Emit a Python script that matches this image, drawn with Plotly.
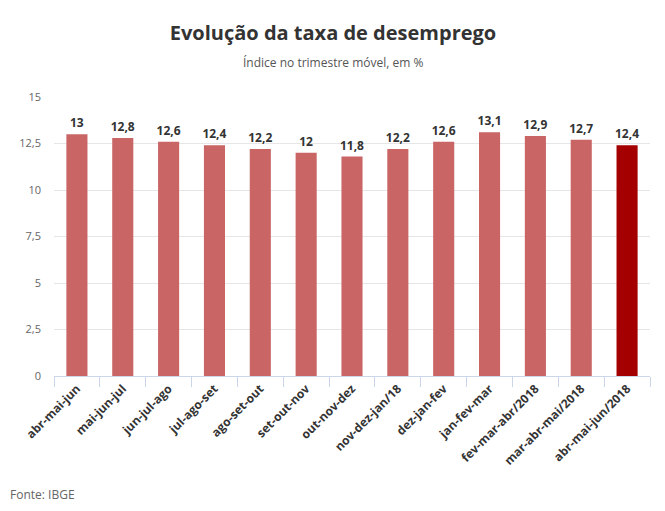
import plotly.graph_objects as go

# Taxa de desemprego no trimestre móvel (%)
trimestres = [
    'abr-mai-jun', 'mai-jun-jul', 'jun-jul-ago', 'jul-ago-set', 'ago-set-out',
    'set-out-nov', 'out-nov-dez', 'nov-dez-jan/18', 'dez-jan-fev', 'jan-fev-mar',
    'fev-mar-abr/2018', 'mar-abr-mai/2018', 'abr-mai-jun/2018',
]
taxa = [13, 12.8, 12.6, 12.4, 12.2, 12, 11.8, 12.2, 12.6, 13.1, 12.9, 12.7, 12.4]
rotulos = ['13', '12,8', '12,6', '12,4', '12,2', '12', '11,8', '12,2', '12,6', '13,1', '12,9', '12,7', '12,4']

# destaque no último trimestre
cores = ['#c96565'] * (len(taxa) - 1) + ['#a50000']

# a página tem 8px de margem no body, então tudo fica deslocado 8px
W, H = 665, 511
ML, MR, MT, MB = 46, 23, 89, 143
pw = W - ML - MR
ph = H - MT - MB

fig = go.Figure(go.Bar(
    x=trimestres,
    y=taxa,
    marker=dict(color=cores, line=dict(width=0)),
    text=rotulos,
    textposition='outside',
    constraintext='none',
    textfont=dict(family='Open Sans', size=12, color='#333333', weight='bold'),
    cliponaxis=False,
    hoverinfo='x+y',
))

fig.update_layout(
    width=W, height=H,
    separators=',.',
    font=dict(family='Open Sans', color='#666666'),
    title=dict(
        text='<b>Evolução da taxa de desemprego</b>',
        x=325 / W, xanchor='center', y=1 - 25 / H, yanchor='middle',
        font=dict(size=20, color='#333333'),
    ),
    margin=dict(l=ML, r=MR, t=MT, b=MB, autoexpand=False),
    plot_bgcolor='white', paper_bgcolor='white',
    bargap=0.54,
    showlegend=False,
    annotations=[
        dict(text='Índice no trimestre móvel, em %', xref='paper', yref='paper',
             x=(325 - ML) / pw, y=1 + (MT - 55) / ph, xanchor='center', yanchor='middle',
             showarrow=False, font=dict(size=12, color='#555555')),
        dict(text='Fonte: IBGE', xref='paper', yref='paper',
             x=(0 - ML) / pw, y=-(486 - (H - MB)) / ph, xanchor='left', yanchor='middle',
             showarrow=False, font=dict(size=12, color='#666666')),
    ],
)

fig.update_xaxes(
    tickangle=-45,
    automargin=False,
    tickfont=dict(size=12, color='#333333', family='Open Sans', weight='bold'),
    showline=True, linecolor='#ccd6eb', linewidth=1,
    ticks='outside', tickson='boundaries', ticklen=10, tickcolor='#ccd6eb',
    showgrid=False,
)
fig.update_yaxes(
    range=[0, 15],
    automargin=False,
    tickvals=[0, 2.5, 5, 7.5, 10, 12.5, 15],
    ticktext=['0', '2,5', '5', '7,5', '10', '12,5', '15'],
    tickfont=dict(size=11, color='#666666'),
    gridcolor='#e6e6e6', gridwidth=1,
    zeroline=False,
    ticks='', ticklabelstandoff=12,
)

fig.write_html('out.html')
